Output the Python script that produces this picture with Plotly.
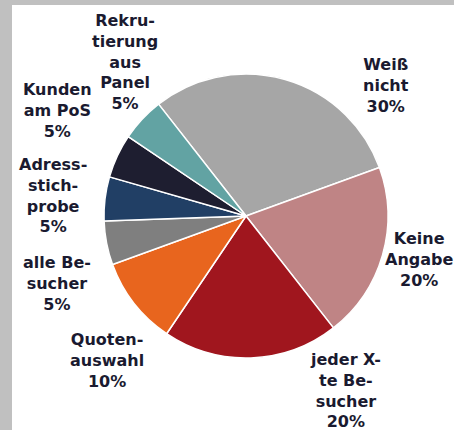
import plotly.graph_objects as go

# slices, clockwise from the teal/grey boundary
categories = [
    "Weiß nicht",
    "Keine Angabe",
    "jeder X-te Besucher",
    "Quotenauswahl",
    "alle Besucher",
    "Adressstichprobe",
    "Kunden am PoS",
    "Rekrutierung aus Panel",
]
shares = [30, 20, 20, 10, 5, 5, 5, 5]
label_lines = [
    "Weiß<br>nicht",
    "Keine<br>Angabe",
    "jeder X-<br>te Be-<br>sucher",
    "Quoten-<br>auswahl",
    "alle Be-<br>sucher",
    "Adress-<br>stich-<br>probe",
    "Kunden<br>am PoS",
    "Rekru-<br>tierung<br>aus<br>Panel",
]

COLORS = ["#a6a6a6", "#bf8485", "#a0161e", "#e8651e",
          "#7f7f7f", "#213f65", "#1e1e30", "#62a3a3"]

W, H = 454, 430
# label centres in pixels (x, y from top)
LABEL_POS = [(386, 86), (419, 259), (345, 390), (107, 360),
             (57, 283), (53, 196), (57, 110), (125, 62)]

fig = go.Figure()
fig.add_trace(go.Pie(
    labels=categories,
    values=shares,
    sort=False,
    direction="clockwise",
    rotation=-38,
    marker={"colors": COLORS, "line": {"color": "white", "width": 1.5}},
    textinfo="none",
    hoverinfo="label+percent",
    showlegend=False,
    domain={"x": [104 / W, 388 / W], "y": [(H - 358) / H, (H - 74) / H]},
))

for text, pct, (px, py) in zip(label_lines, shares, LABEL_POS):
    fig.add_annotation(
        x=px / W, y=1 - py / H, xref="paper", yref="paper",
        text=f"{text}<br>{pct}%", showarrow=False,
        xanchor="center", yanchor="middle", align="center",
        font={"family": "DejaVu Sans", "size": 16, "color": "#1a1a30", "weight": "bold"},
    )

# white panel inside the grey frame
fig.add_shape(type="rect", xref="paper", yref="paper",
              x0=12 / W, x1=1, y0=0, y1=1 - 5 / H,
              fillcolor="white", line={"width": 0}, layer="below")

fig.update_layout(
    width=W, height=H,
    margin={"l": 0, "r": 0, "t": 0, "b": 0},
    paper_bgcolor="#c0c0c0",
    plot_bgcolor="white",
)

fig.write_html("out.html", config={"displayModeBar": False},
               post_script="document.body.style.margin='0';")
